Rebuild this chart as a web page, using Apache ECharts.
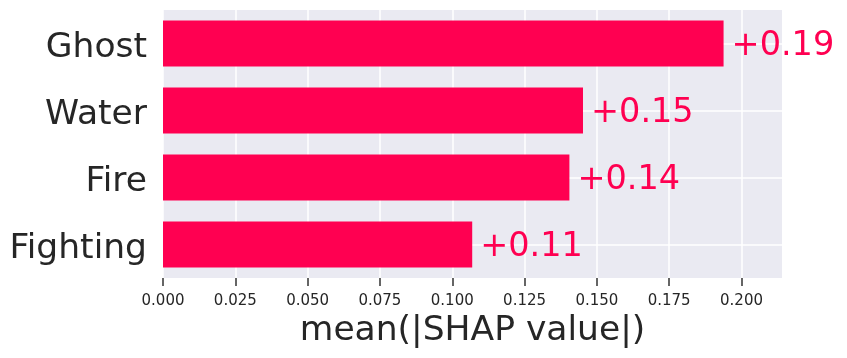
<!DOCTYPE html>
<html>
<head>
<meta charset="utf-8">
<script src="https://cdn.jsdelivr.net/npm/echarts@6/dist/echarts.min.js"></script>
<style>
  html, body { margin: 0; padding: 0; background: #fff; }
  #chart { width: 847px; height: 358px; }
</style>
</head>
<body>
<div id="chart"></div>
<script>
// ------------------------------------------------------------------------
// Data (mean |SHAP| per feature)
// ------------------------------------------------------------------------
var categories = ['Ghost', 'Water', 'Fire', 'Fighting'];
var shapValues = [0.1938, 0.1452, 0.1405, 0.1069];
var xTicks = [0, 0.025, 0.05, 0.075, 0.1, 0.125, 0.15, 0.175, 0.2];
var xMax = 0.214;

// helper rows for the horizontal grid lines through the bar centres
var gridRows = ['', '', '', '', '', '', '', '', ''];

var RED = '#ff0051';
var DARK = '#262626';
var FONT = 'DejaVu Sans';

var chart = echarts.init(document.getElementById('chart'));

var option = {
    animation: false,
    textStyle: { fontFamily: FONT },
    grid: {
        left: 163, right: 65, top: 10, bottom: 80,
        containLabel: false,
        outerBoundsMode: 'none',
        show: true,
        backgroundColor: '#eaeaf2',
        borderWidth: 0
    },
    xAxis: {
        type: 'value',
        min: 0,
        max: xMax,
        interval: 0.025,
        name: 'mean(|SHAP value|)',
        nameLocation: 'middle',
        nameGap: 35,
        nameTextStyle: { fontSize: 34.5, color: DARK, fontFamily: FONT },
        axisLine: { show: false },
        axisTick: {
            show: true,
            length: 8,
            customValues: xTicks,
            lineStyle: { color: '#333', width: 1.5 }
        },
        axisLabel: {
            customValues: xTicks,
            margin: 16,
            fontSize: 15,
            color: DARK,
            fontFamily: FONT,
            formatter: function (v) { return v.toFixed(3); }
        },
        splitLine: { show: true, lineStyle: { color: '#ffffff', width: 1.5 } }
    },
    yAxis: [{
        type: 'category',
        data: categories,
        inverse: true,
        axisLine: { show: false },
        axisTick: { show: false },
        axisLabel: {
            margin: 16,
            formatter: function (v) { return '{t|' + v + '}'; },
            rich: {
                t: { fontSize: 34.5, color: DARK, fontFamily: FONT, padding: [10, 0, 0, 0] }
            }
        },
        splitLine: { show: false }
    }, {
        type: 'category',
        data: gridRows,
        boundaryGap: false,
        position: 'left',
        axisLine: { show: false },
        axisTick: { show: false },
        axisLabel: { show: false },
        splitLine: {
            show: true,
            interval: function (i) { return i % 2 === 1; },
            lineStyle: { color: '#ffffff', width: 1.5 }
        }
    }],
    series: [{
        type: 'bar',
        yAxisIndex: 0,
        data: shapValues,
        barWidth: 46,
        itemStyle: { color: RED },
        label: {
            show: true,
            position: 'right',
            distance: 8,
            formatter: function (p) { return '{v|+' + p.value.toFixed(2) + '}'; },
            rich: {
                v: { fontSize: 33.5, color: RED, fontFamily: FONT, padding: [6, 0, 0, 0] }
            }
        }
    }]
};
chart.setOption(option);
</script>
</body>
</html>
